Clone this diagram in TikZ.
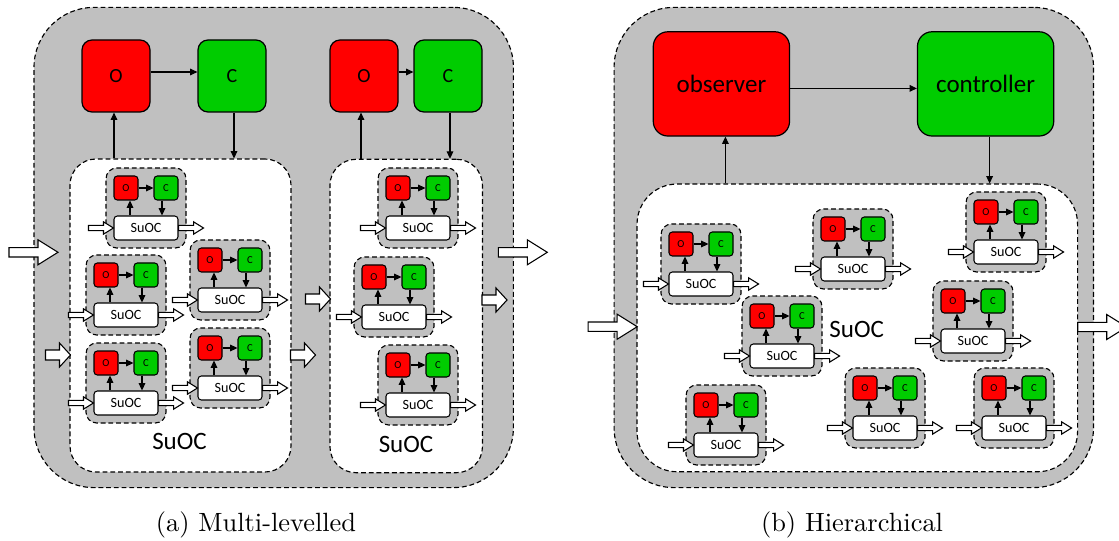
\documentclass[tikz,border=0pt]{standalone}
\usepackage{fontspec}
\newfontfamily\calib{Carlito}
\newfontfamily\capfont{lmroman10-regular.otf}
\usetikzlibrary{arrows.meta,calc}
\definecolor{gbg}{RGB}{192,192,192}
\definecolor{ored}{RGB}{255,0,0}
\definecolor{cgrn}{RGB}{0,204,0}
\tikzset{
  ta/.style={line width=0.8pt,-{Triangle[length=5.5pt,width=5pt]}},
  dbox/.style={draw,dash pattern=on 3.6pt off 2.2pt,line width=0.85pt,inner sep=0pt},
  outerbox/.style={dbox,fill=gbg,rounded corners=45pt,minimum width={479.4*0.75pt},minimum height={480.2*0.75pt}},
  innerbox/.style={dbox,fill=white},
  ugray/.style={dbox,fill=gbg,rounded corners=8pt,minimum width=60pt,minimum height=60pt},
  tinyb/.style={draw,line width=0.8pt,rounded corners=2.5pt,minimum width=18pt,minimum height=18pt,inner sep=0pt,font=\calib\fontsize{8}{9}\selectfont},
  tinyo/.style={tinyb,fill=ored},
  tinyc/.style={tinyb,fill=cgrn},
  suocb/.style={draw,fill=white,line width=0.8pt,rounded corners=2.5pt,minimum width=48pt,minimum height=18pt,inner sep=0pt,font=\calib\fontsize{10.6}{12}\selectfont},
  bigb/.style={draw,line width=0.9pt,rounded corners=7.5pt,minimum width=51pt,minimum height=54pt,inner sep=0pt,font=\calib\fontsize{15}{18}\selectfont},
  hugeb/.style={draw,line width=0.9pt,rounded corners=11pt,minimum width=102.2pt,minimum height=78.2pt,inner sep=0pt,font=\calib\fontsize{18.75}{22}\selectfont},
  biglabel/.style={anchor=base,inner sep=0pt,font=\calib\fontsize{18.75}{22}\selectfont},
  caplabel/.style={anchor=base,inner sep=0pt,font=\capfont\fontsize{19.8}{24}\selectfont},
  hol/.style={draw,fill=white,line width=0.8pt,line join=miter},
  hsmall/.pic={\draw[hol] (0,-2.7) -- (15,-2.7) -- (15,-6.2) -- (25,0) -- (15,6.2) -- (15,2.7) -- (0,2.7) -- cycle;},
  hmid/.pic={\draw[hol] (0,-5) -- (14,-5) -- (14,-12) -- (25,0) -- (14,12) -- (14,5) -- (0,5) -- cycle;},
  hbig/.pic={\draw[hol] (0,-4.7) -- (29,-4.7) -- (29,-12.5) -- (49,0) -- (29,12.5) -- (29,4.7) -- (0,4.7) -- cycle;},
}
\newcommand\suocunit[3]{%
  \begin{scope}[shift={(#2,#3)}]
    \node[ugray] (#1g) at (40,40) {};
    \node[tinyo] (#1o) at (20,20) {O};
    \node[tinyc] (#1c) at (60,20) {C};
    \node[suocb] (#1s) at (40,60) {SuOC};
  \end{scope}
  \draw[ta] (#1o) -- (#1c);
  \draw[ta] ($(#1o.south |- #1s.north)+(4,0)$) -- ($(#1o.south)+(4,0)$);
  \draw[ta] ($(#1c.south)+(-4,0)$) -- ($(#1c.south |- #1s.north)+(-4,0)$);
  \pic at ($(#1s.west)+(-25,0)$) {hsmall};
  \pic at (#1s.east) {hsmall};
}
\begin{document}
\begin{tikzpicture}[x=0.75pt,y=-0.75pt]
\useasboundingbox (0,0) rectangle (1119,541);
% ---------- (a) Multi-levelled ----------
\node[outerbox] (oa) at (273.7,247.5) {};
\node[innerbox,rounded corners=19.5pt,minimum width={221*0.75pt},minimum height={313*0.75pt}] (ia1) at (180.5,315.5) {};
\node[innerbox,rounded corners=19.5pt,minimum width={152.5*0.75pt},minimum height={313.4*0.75pt}] (ia2) at (406.2,316) {};
\node[bigb,fill=ored] (ao1) at (116,76) {O};
\node[bigb,fill=cgrn] (ac1) at (232,76) {C};
\node[bigb,fill=ored] (ao2) at (364,76) {O};
\node[bigb,fill=cgrn] (ac2) at (448,76) {C};
\draw[ta] ($(ao1.east)+(0,-4)$) -- ($(ac1.west)+(0,-4)$);
\draw[ta] ($(ao2.east)+(0,-4)$) -- ($(ac2.west)+(0,-4)$);
\draw[ta] ($(ia1.north -| ao1.south)+(-2,0)$) -- ($(ao1.south)+(-2,0)$);
\draw[ta] ($(ac1.south)+(2,0)$) -- ($(ac1.south |- ia1.north)+(2,0)$);
\draw[ta] ($(ia2.north -| ao2.south)+(-3,0)$) -- ($(ao2.south)+(-3,0)$);
\draw[ta] ($(ac2.south)+(2,0)$) -- ($(ac2.south |- ia2.north)+(2,0)$);
\suocunit{u1}{106}{168}
\suocunit{u2}{86}{255}
\suocunit{u3}{190}{240}
\suocunit{u4}{86}{343}
\suocunit{u5}{190}{328}
\suocunit{v1}{378}{168}
\suocunit{v2}{354}{257}
\suocunit{v3}{378}{345}
\node[biglabel] (la1) at (179.5,449) {SuOC};
\node[biglabel] (la2) at (406,452) {SuOC};
\pic at (9,252.3) {hbig};
\pic at (498.3,252.3) {hbig};
\pic at (45.5,355) {hmid};
\pic at (290.5,355) {hmid};
\pic at (305.5,299) {hmid};
\pic at (482,300) {hmid};
\node[caplabel] (capa) at (256,531) {(a) Multi-levelled};
% ---------- (b) Hierarchical ----------
\node[outerbox] (ob) at (853.8,247.5) {};
\node[innerbox,rounded corners=30pt,minimum width={440.5*0.75pt},minimum height={287.7*0.75pt}] (ib) at (857.3,327.9) {};
\node[hugeb,fill=ored] (obs) at (721.4,83.9) {observer};
\node[hugeb,fill=cgrn] (ctl) at (985.6,83.9) {controller};
\draw[ta] ($(obs.east)+(0,4.5)$) -- ($(ctl.west)+(0,4.5)$);
\draw[ta] ($(ib.north -| obs.south)+(4,0)$) -- ($(obs.south)+(4,0)$);
\draw[ta] ($(ctl.south)+(4,0)$) -- ($(ctl.south |- ib.north)+(4,0)$);
\suocunit{w1}{661}{224}
\suocunit{w2}{813}{209}
\suocunit{w3}{966}{192}
\suocunit{w4}{742}{296}
\suocunit{w5}{933}{281}
\suocunit{w6}{686}{385}
\suocunit{w7}{845}{368}
\suocunit{w8}{974}{368}
\node[biglabel] (lb) at (856.7,337.3) {SuOC};
\pic at (588.2,326.7) {hbig};
\pic at (1077.7,327) {hbig};
\node[caplabel] (capb) at (852,531) {(b) Hierarchical};
\end{tikzpicture}
\end{document}
